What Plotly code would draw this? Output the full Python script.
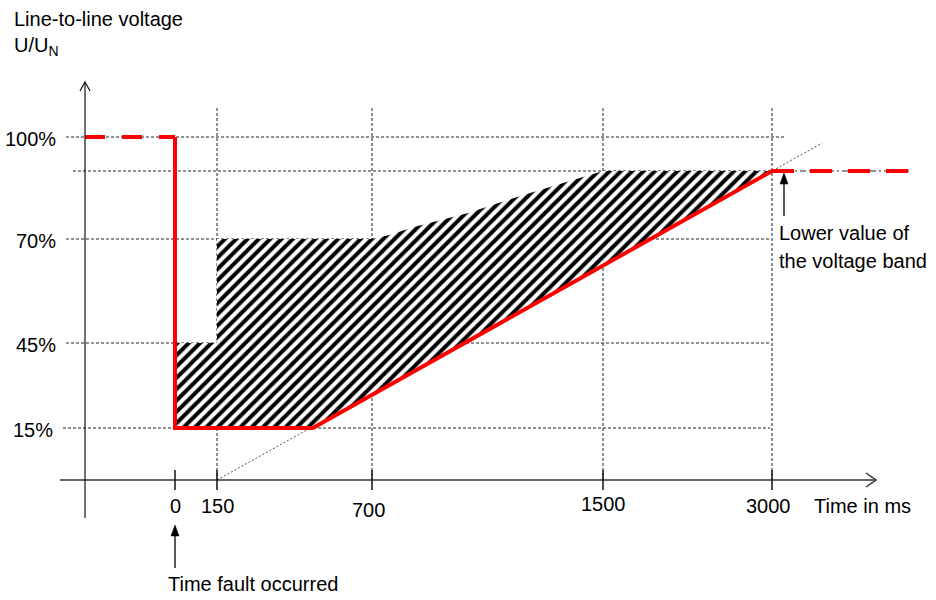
import numpy as np
import plotly.graph_objects as go

# ---------------- data (schematic values) ----------------
time_ticks_ms = [0, 150, 700, 1500, 3000]
time_tick_labels = ["0", "150", "700", "1500", "3000"]
voltage_ticks_pct = [15, 45, 70, 100]
voltage_tick_labels = ["15%", "45%", "70%", "100%"]
voltage_band_pct = 90            # lower value of the voltage band
pre_fault_pct = 100

# red boundary line (solid part)
frt_time_ms = [0, 0, 490, 3000]
frt_voltage_pct = [100, 15, 15, 90]

# hatched region outline
hatch_time_ms = [0, 0, 150, 150, 700, 760, 845, 1030, 1205, 1360, 1470, 1500, 3000, 490, 0]
hatch_voltage_pct = [15, 45, 45, 70, 70, 71.2, 73.5, 77.6, 82.4, 86.5, 89.3, 90, 90, 15, 15]

# thin construction line of the ramp
ramp_time_ms = [150, 3000]
ramp_voltage_pct = [0, 90]

# ---------------- schematic (non-linear) scale ----------------
X_ANCHOR_MS = time_ticks_ms
X_ANCHOR_PX = [175, 217, 372, 603, 772]
Y_ANCHOR_PCT = [0, 15, 45, 70, 90, 100]
Y_ANCHOR_PX = [480, 428, 343, 239, 171, 137]
Y_AXIS_X = 85
X_AXIS_Y = 480
RIGHT_END_X = 910


def xpos(t):
    return np.interp(np.asarray(t, dtype=float), X_ANCHOR_MS, X_ANCHOR_PX)


def ypos(v):
    return np.interp(np.asarray(v, dtype=float), Y_ANCHOR_PCT, Y_ANCHOR_PX)


FONT = dict(family="Liberation Sans, Arial, sans-serif", size=20, color="black")
GRID = dict(color="#222222", width=1, dash="3px,2px")
RED = "#ff0000"

fig = go.Figure()

shapes = []
# horizontal dotted grid lines
grid_h = [
    (pre_fault_pct, 66, 785),
    (voltage_band_pct, 73, 772),
    (70, 66, 770),
    (45, 66, 770),
    (15, 63, 770),
]
for v, x0, x1 in grid_h:
    y = float(ypos(v))
    shapes.append(dict(type="line", xref="x", yref="y", x0=x0, x1=x1, y0=y, y1=y,
                       line=GRID, layer="below"))
# dotted continuation of band to the right
yb = float(ypos(voltage_band_pct))
shapes.append(dict(type="line", xref="x", yref="y", x0=772, x1=RIGHT_END_X, y0=yb, y1=yb,
                   line=dict(color="#222222", width=1, dash="6px,3px,2px,3px"), layer="below"))
# vertical dotted grid lines
for t in time_ticks_ms[1:]:
    x = float(xpos(t))
    shapes.append(dict(type="line", xref="x", yref="y", x0=x, x1=x, y0=108, y1=X_AXIS_Y,
                       line=GRID, layer="below"))
# ramp construction line (extended beyond 3000 ms)
rx = xpos(ramp_time_ms)
ry = ypos(ramp_voltage_pct)
ext = 1.09
shapes.append(dict(type="line", xref="x", yref="y",
                   x0=float(rx[0]), y0=float(ry[0]),
                   x1=float(rx[0] + (rx[1] - rx[0]) * ext),
                   y1=float(ry[0] + (ry[1] - ry[0]) * ext),
                   line=dict(color="#222222", width=0.8, dash="2px,2px"), layer="below"))

AX = dict(color="#333333", width=1.5)
# x axis with open arrow
shapes.append(dict(type="line", xref="x", yref="y", x0=60, x1=876, y0=X_AXIS_Y, y1=X_AXIS_Y, line=AX))
shapes.append(dict(type="path", xref="x", yref="y",
                   path=f"M 866 {X_AXIS_Y-7} L 876 {X_AXIS_Y} L 866 {X_AXIS_Y+7}",
                   line=AX))
# y axis with open arrow
shapes.append(dict(type="line", xref="x", yref="y", x0=Y_AXIS_X, x1=Y_AXIS_X, y0=518, y1=82,
                   line=dict(color="#111111", width=1.2)))
shapes.append(dict(type="path", xref="x", yref="y",
                   path=f"M {Y_AXIS_X-5} 91 L {Y_AXIS_X} 82 L {Y_AXIS_X+5} 91",
                   line=dict(color="#111111", width=1.2)))
# x tick marks
for t in time_ticks_ms:
    x = float(xpos(t))
    shapes.append(dict(type="line", xref="x", yref="y", x0=x, x1=x,
                       y0=X_AXIS_Y - 10, y1=X_AXIS_Y + 10,
                       line=dict(color="#111111", width=1.5)))


def up_arrow(x, y_tip, y_tail):
    """vertical pointer arrow with a filled head"""
    shapes.append(dict(type="line", xref="x", yref="y", x0=x, x1=x, y0=y_tail, y1=y_tip + 8,
                       line=dict(color="black", width=1.3)))
    shapes.append(dict(type="path", xref="x", yref="y",
                       path=f"M {x-4} {y_tip+11} L {x} {y_tip} L {x+4} {y_tip+11} Z",
                       fillcolor="black", line=dict(color="black", width=0.5)))


up_arrow(float(xpos(0)), 525, 568)
up_arrow(784, 173, 216)

# hatched region
fig.add_trace(go.Scatter(
    x=xpos(hatch_time_ms), y=ypos(hatch_voltage_pct),
    mode="lines", fill="toself", line=dict(width=0, color="rgba(0,0,0,0)"),
    fillcolor="white",
    fillpattern=dict(shape="/", fgcolor="black", bgcolor="white", fgopacity=1,
                     size=8, solidity=0.5),
    hoverinfo="skip", showlegend=False))

# red boundary: pre-fault dashed
fig.add_trace(go.Scatter(
    x=[Y_AXIS_X, float(xpos(0))], y=[float(ypos(pre_fault_pct))] * 2,
    mode="lines", line=dict(color=RED, width=4, dash="20px,17px"),
    hoverinfo="skip", showlegend=False))
# solid part
fig.add_trace(go.Scatter(
    x=xpos(frt_time_ms), y=ypos(frt_voltage_pct),
    mode="lines", line=dict(color=RED, width=4),
    hoverinfo="skip", showlegend=False))
# post dashed
fig.add_trace(go.Scatter(
    x=[float(xpos(3000)), RIGHT_END_X], y=[yb, yb],
    mode="lines", line=dict(color=RED, width=4, dash="22px,16px"),
    hoverinfo="skip", showlegend=False))

ann = []
# x tick labels
x_label_dx = [0, 0, -4, 0, -4]
x_label_y = [506, 506, 510, 504, 506]
for t, lab, dx, yy in zip(time_ticks_ms, time_tick_labels, x_label_dx, x_label_y):
    ann.append(dict(x=float(xpos(t)) + dx, y=yy, text=lab, showarrow=False,
                    xanchor="center", yanchor="middle", font=FONT))
ann.append(dict(x=812, y=506, text="Time in ms", showarrow=False,
                xanchor="left", yanchor="middle", font=FONT))
# y tick labels
y_label_x = [55, 58, 58, 58]
for v, lab, xx in zip(voltage_ticks_pct, voltage_tick_labels, y_label_x):
    ann.append(dict(x=xx, y=float(ypos(v)) + 2, text=lab, showarrow=False,
                    xanchor="right", yanchor="middle", font=FONT))
# axis title
ann.append(dict(x=12, y=19, text="Line-to-line voltage", showarrow=False,
                xanchor="left", yanchor="middle", font=FONT))
ann.append(dict(x=12, y=46, text="U/U<sub>N</sub>", showarrow=False,
                xanchor="left", yanchor="middle", font=FONT))
# pointer texts
ann.append(dict(x=166, y=584, text="Time fault occurred", showarrow=False,
                xanchor="left", yanchor="middle", font=FONT))
ann.append(dict(x=777, y=233, text="Lower value of", showarrow=False,
                xanchor="left", yanchor="middle", font=FONT))
ann.append(dict(x=777, y=261, text="the voltage band", showarrow=False,
                xanchor="left", yanchor="middle", font=FONT))

W, H = 936, 600
fig.update_layout(
    width=W, height=H,
    margin=dict(l=0, r=0, t=0, b=0),
    paper_bgcolor="white", plot_bgcolor="white",
    xaxis=dict(range=[0, W], visible=False, fixedrange=True),
    yaxis=dict(range=[H, 0], visible=False, fixedrange=True),
    shapes=shapes, annotations=ann, showlegend=False,
)

fig.write_html("out.html", config={"displayModeBar": False},
               post_script="document.body.style.margin='0';document.body.style.overflow='hidden';")
